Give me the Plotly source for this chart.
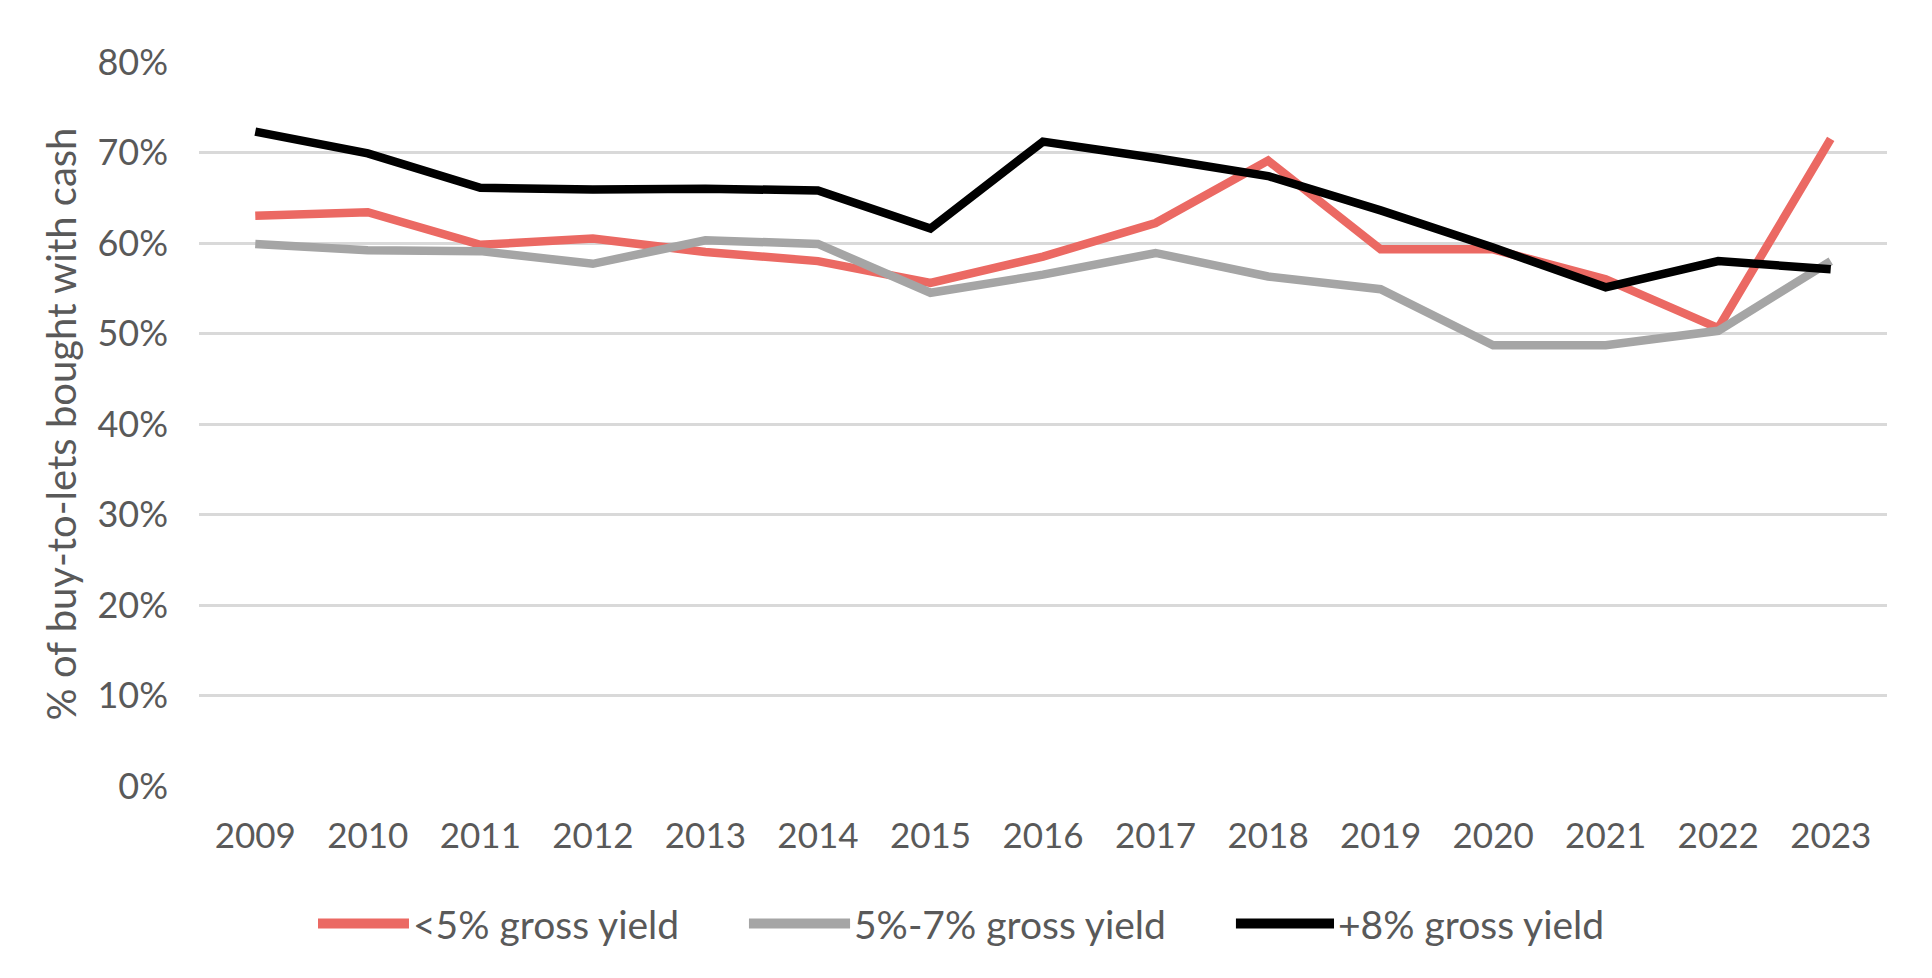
import plotly.graph_objects as go

years = ["2009", "2010", "2011", "2012", "2013", "2014", "2015", "2016",
         "2017", "2018", "2019", "2020", "2021", "2022", "2023"]
under5 = [63.0, 63.4, 59.8, 60.5, 59.0, 58.0, 55.6, 58.5, 62.2, 69.1, 59.3, 59.3, 56.0, 50.6, 71.5]
mid5to7 = [59.9, 59.2, 59.1, 57.7, 60.3, 59.9, 54.5, 56.5, 58.9, 56.3, 54.9, 48.7, 48.7, 50.3, 58.0]
over8 = [72.3, 69.9, 66.1, 65.9, 66.0, 65.8, 61.6, 71.2, 69.4, 67.4, 63.6, 59.5, 55.1, 58.0, 57.1]

names = ["<5% gross yield", "5%-7% gross yield", "+8% gross yield"]
colors = ["#EB6963", "#A5A5A5", "#000000"]
series = [under5, mid5to7, over8]
y_ticks = [0, 10, 20, 30, 40, 50, 60, 70, 80]

FONT = "Lato"
TXT = "#595959"

fig = go.Figure()
for nm, col, vals in zip(names, colors, series):
    fig.add_trace(go.Scatter(
        x=years, y=[v / 100 for v in vals], mode="lines", name=nm,
        line=dict(color=col, width=8.5), showlegend=False,
    ))

# manual legend (long swatches)
leg_y = -0.19
swatch_x = [(0.0705, 0.1244), (0.3258, 0.3857), (0.6143, 0.6724)]
for nm, col, (x0, x1) in zip(names, colors, swatch_x):
    fig.add_shape(type="line", xref="paper", yref="paper", x0=x0, x1=x1,
                  y0=leg_y, y1=leg_y, line=dict(color=col, width=10))
    fig.add_annotation(xref="paper", yref="paper", x=x1 + 0.001, y=leg_y,
                       text=nm, showarrow=False, xanchor="left", yanchor="middle",
                       font=dict(family=FONT, size=39, color=TXT))

fig.update_layout(
    width=1932, height=978,
    margin=dict(l=191, r=53, t=54, b=200),
    plot_bgcolor="white", paper_bgcolor="white",
    font=dict(family=FONT, color=TXT, size=34),
    xaxis=dict(type="category", range=[-0.5, 14.5], showgrid=False,
               showline=False, ticks="", tickfont=dict(size=35, color=TXT),
               ticklabelstandoff=26),
    yaxis=dict(range=[0, 0.8], tickvals=[t / 100 for t in y_ticks],
               ticktext=[f"{t}%" for t in y_ticks],
               showgrid=True, gridcolor="#D9D9D9", gridwidth=3,
               zeroline=False, showline=False, ticks="",
               tickfont=dict(size=36, color=TXT), ticklabelstandoff=30,
               title=dict(text="% of buy-to-lets bought with cash",
                          font=dict(size=40, color=TXT), standoff=8)),
)

fig.write_html("out.html")
